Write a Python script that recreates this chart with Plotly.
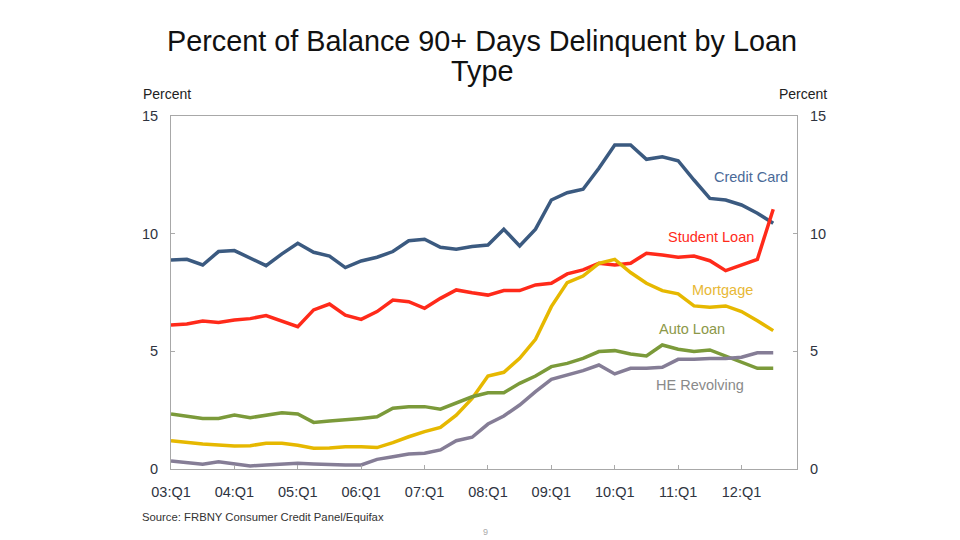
import plotly.graph_objects as go

years = ["03", "04", "05", "06", "07", "08", "09", "10", "11", "12"]
quarters = [f"{y}:Q{q}" for y in years for q in range(1, 5)][:39]
tick_labels = [f"{y}:Q1" for y in years]

credit_card = [8.88, 8.91, 8.67, 9.24, 9.28, 8.95, 8.64, 9.14, 9.59, 9.21,
               9.05, 8.56, 8.84, 9.00, 9.24, 9.70, 9.76, 9.42, 9.34, 9.45,
               9.52, 10.19, 9.48, 10.19, 11.43, 11.74, 11.89, 12.78, 13.77, 13.77,
               13.16, 13.27, 13.10, 12.28, 11.50, 11.43, 11.22, 10.87, 10.44]
student_loan = [6.12, 6.16, 6.29, 6.23, 6.33, 6.39, 6.52, 6.30, 6.05, 6.76,
                7.01, 6.54, 6.36, 6.69, 7.18, 7.11, 6.83, 7.25, 7.61, 7.49,
                7.39, 7.58, 7.58, 7.82, 7.89, 8.29, 8.46, 8.74, 8.67, 8.74,
                9.17, 9.09, 9.00, 9.05, 8.85, 8.43, 8.67, 8.91, 11.04]
mortgage = [1.20, 1.12, 1.06, 1.02, 0.98, 0.99, 1.09, 1.09, 1.01, 0.88,
            0.89, 0.95, 0.95, 0.91, 1.12, 1.37, 1.59, 1.77, 2.29, 3.00,
            3.95, 4.11, 4.70, 5.51, 6.90, 7.92, 8.20, 8.74, 8.91, 8.35,
            7.89, 7.58, 7.44, 6.93, 6.87, 6.93, 6.69, 6.30, 5.88]
auto_loan = [2.34, 2.25, 2.15, 2.15, 2.29, 2.18, 2.28, 2.39, 2.34, 1.98,
             2.04, 2.08, 2.15, 2.22, 2.58, 2.65, 2.65, 2.54, 2.79, 3.07,
             3.24, 3.24, 3.64, 3.95, 4.35, 4.49, 4.70, 4.99, 5.03, 4.89,
             4.80, 5.27, 5.09, 4.99, 5.06, 4.80, 4.52, 4.28, 4.28]
he_revolving = [0.34, 0.27, 0.20, 0.31, 0.21, 0.13, 0.17, 0.21, 0.24, 0.21,
                0.18, 0.17, 0.17, 0.41, 0.52, 0.64, 0.67, 0.81, 1.20, 1.35,
                1.91, 2.25, 2.72, 3.29, 3.81, 3.99, 4.18, 4.42, 4.04, 4.28,
                4.28, 4.32, 4.66, 4.66, 4.70, 4.70, 4.75, 4.94, 4.94]

series = [
    ("Credit Card", credit_card, "#3b5a80", "#4a6a98", 36.6, 12.42),
    ("Student Loan", student_loan, "#ff2a1a", "#ff2a1a", 34.1, 9.87),
    ("Mortgage", mortgage, "#e6b800", "#e8b835", 34.8, 7.61),
    ("Auto Loan", auto_loan, "#7b9a3a", "#8c9848", 32.9, 5.93),
    ("HE Revolving", he_revolving, "#857d96", "#8a8a8a", 33.4, 3.57),
]

FONT = "Liberation Sans, Arial, sans-serif"
L, R, T, B = 171, 163, 116, 71
W, H = 960, 540
pw, ph = W - L - R, H - T - B


def px_to_paper(px, py):
    return (px - L) / pw, (H - B - py) / ph


fig = go.Figure()
annotations = []
for name, vals, color, tcolor, ax, ay in series:
    fig.add_trace(go.Scatter(x=quarters, y=vals, mode="lines", name=name,
                             line=dict(color=color, width=3.5), showlegend=False))
    annotations.append(dict(x=ax, y=ay, xref="x", yref="y", text=name, showarrow=False,
                            xanchor="center", yanchor="middle",
                            font=dict(family=FONT, size=14.5, color=tcolor)))

# invisible trace to activate right axis
fig.add_trace(go.Scatter(x=[quarters[0]], y=[0], yaxis="y2", mode="markers",
                         marker=dict(opacity=0), showlegend=False, hoverinfo="skip"))


def text_at(px, py, text, size, color, xanchor="center"):
    x, y = px_to_paper(px, py)
    return dict(x=x, y=y, xref="paper", yref="paper", text=text, showarrow=False,
                xanchor=xanchor, yanchor="middle",
                font=dict(family=FONT, size=size, color=color))


annotations += [
    text_at(482, 41, "Percent of Balance 90+ Days Delinquent by Loan", 28.8, "#111"),
    text_at(482, 71, "Type", 28.8, "#111"),
    text_at(167, 94, "Percent", 14, "#222"),
    text_at(803, 94, "Percent", 14, "#222"),
    text_at(140, 517, "Source: FRBNY Consumer Credit Panel/Equifax", 11.3, "#333", xanchor="left"),
    text_at(485, 532, "9", 9, "#aaa"),
]

axis_common = dict(range=[0, 15], tickvals=[0, 5, 10, 15], ticks="inside", ticklen=4,
                   tickcolor="#aaa", showgrid=False, zeroline=False,
                   showline=True, linecolor="#a8a8a8", linewidth=1,
                   tickfont=dict(family=FONT, size=14.5, color="#2e3340"))

fig.update_layout(
    width=W, height=H,
    margin=dict(l=L, r=R, t=T, b=B),
    paper_bgcolor="white", plot_bgcolor="white",
    xaxis=dict(type="category", categoryorder="array", categoryarray=quarters,
               range=[0, 39.5], tickvals=tick_labels, ticktext=tick_labels,
               ticks="inside", ticklen=4, tickcolor="#aaa", showgrid=False,
               showline=True, linecolor="#a8a8a8", linewidth=1, mirror=True,
               ticklabelstandoff=10,
               tickfont=dict(family=FONT, size=14.5, color="#2e3340")),
    yaxis=dict(**axis_common, side="left", ticklabelstandoff=9),
    yaxis2=dict(**axis_common, side="right", overlaying="y", ticklabelstandoff=9),
    annotations=annotations,
)

fig.write_html("out.html", config={"displayModeBar": False},
               post_script="document.body.style.margin='0';")
